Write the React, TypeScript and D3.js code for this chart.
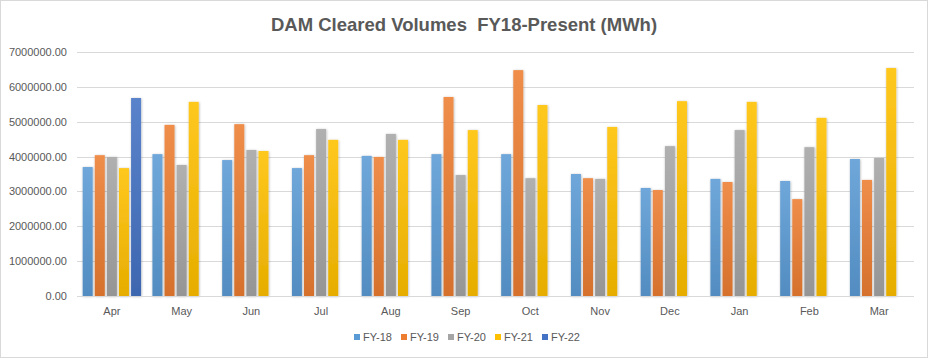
import React from "react";
import * as d3 from "d3";

const months = ["Apr", "May", "Jun", "Jul", "Aug", "Sep", "Oct", "Nov", "Dec", "Jan", "Feb", "Mar"];
const seriesNames = ["FY-18", "FY-19", "FY-20", "FY-21", "FY-22"];
const fy18 = [3700000, 4070000, 3900000, 3670000, 4020000, 4070000, 4070000, 3500000, 3100000, 3360000, 3300000, 3930000];
const fy19 = [4040000, 4910000, 4930000, 4040000, 3990000, 5710000, 6480000, 3380000, 3040000, 3270000, 2780000, 3330000];
const fy20 = [3990000, 3760000, 4190000, 4790000, 4650000, 3470000, 3380000, 3360000, 4300000, 4760000, 4270000, 3960000];
const fy21 = [3670000, 5570000, 4160000, 4480000, 4480000, 4760000, 5480000, 4850000, 5590000, 5570000, 5110000, 6540000];
const fy22: (number | null)[] = [5680000, null, null, null, null, null, null, null, null, null, null, null];
const yTicks = [0, 1000000, 2000000, 3000000, 4000000, 5000000, 6000000, 7000000];
const colors = ["#5B9BD5", "#ED7D31", "#A5A5A5", "#FFC000", "#4472C4"];

const W = 928;
const H = 358;
const M = { left: 77, right: 14, top: 52, bottom: 62 };

export default function App() {
  const series = [fy18, fy19, fy20, fy21, fy22];
  const x = d3.scaleBand<string>().domain(months).range([M.left, W - M.right]).padding(0);
  const y = d3.scaleLinear().domain([0, 7000000]).range([H - M.bottom, M.top]);
  const band = x.bandwidth();
  const barW = 10;
  const step = 12.1;
  const groupW = step * 4 + barW;
  const off = (band - groupW) / 2;
  const textColor = "#595959";
  const font = "'Liberation Sans', Arial, sans-serif";

  return (
    <svg width={W} height={H} style={{ position: "absolute", left: 0, top: 0, background: "#fff" }}>
      <defs>
        {colors.map((c, i) => {
          const top = d3.interpolateRgb(c, "#ffffff")(0.12);
          const bot = d3.interpolateRgb(c, "#000000")(0.1);
          return (
            <linearGradient key={i} id={`g${i}`} x1="0" y1="0" x2="0" y2="1">
              <stop offset="0" stopColor={top} />
              <stop offset="1" stopColor={bot} />
            </linearGradient>
          );
        })}
        <filter id="sh" x="-50%" y="-10%" width="200%" height="120%">
          <feDropShadow dx="0.5" dy="0.5" stdDeviation="1.2" floodColor="#000" floodOpacity="0.3" />
        </filter>
      </defs>
      <rect x={0.5} y={0.5} width={W - 1} height={H - 1} fill="#fff" stroke="#d9d9d9" />
      <text x={464} y={31} textAnchor="middle" fontFamily={font} fontWeight="bold" fontSize={18.5} fill={textColor} style={{ whiteSpace: "pre" }}>
        {"DAM Cleared Volumes  FY18-Present (MWh)"}
      </text>
      {yTicks.map((t) => (
        <g key={t}>
          <line x1={M.left} x2={W - M.right} y1={Math.round(y(t)) + 0.5} y2={Math.round(y(t)) + 0.5} stroke="#d9d9d9" />
          <text x={67} y={y(t) + 4} textAnchor="end" fontFamily={font} fontSize={11} fill={textColor}>
            {d3.format(".2f")(t)}
          </text>
        </g>
      ))}
      {months.map((m, mi) => (
        <g key={m}>
          {series.map((s, si) => {
            const v = s[mi];
            if (v == null) return null;
            const bx = (x(m) as number) + off + si * step;
            return (
              <rect key={si} x={bx} y={y(v)} width={barW} height={y(0) - y(v)} fill={`url(#g${si})`} filter="url(#sh)" />
            );
          })}
          <text x={(x(m) as number) + band / 2} y={315} textAnchor="middle" fontFamily={font} fontSize={11} fill={textColor}>
            {m}
          </text>
        </g>
      ))}
      <line x1={M.left} x2={W - M.right} y1={Math.round(y(0)) + 0.5} y2={Math.round(y(0)) + 0.5} stroke="#d9d9d9" />
      {seriesNames.map((n, i) => (
        <g key={n} transform={`translate(${354 + i * 47},0)`}>
          <rect x={0} y={334} width={6} height={6} fill={colors[i]} />
          <text x={9} y={341} fontFamily={font} fontSize={11} fill={textColor}>
            {n}
          </text>
        </g>
      ))}
    </svg>
  );
}
